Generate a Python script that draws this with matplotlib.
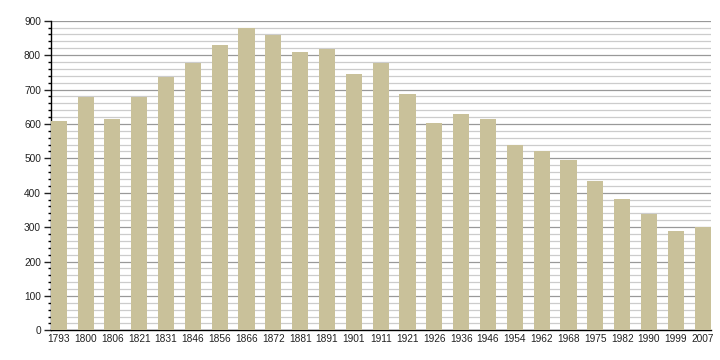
import numpy as np
import matplotlib
matplotlib.use('Agg')
import matplotlib.pyplot as plt
from matplotlib.ticker import MultipleLocator

years = ['1793', '1800', '1806', '1821', '1831', '1846', '1856', '1866', '1872',
         '1881', '1891', '1901', '1911', '1921', '1926', '1936', '1946', '1954',
         '1962', '1968', '1975', '1982', '1990', '1999', '2007']
population = [608, 678, 613, 678, 736, 777, 830, 879, 858,
              810, 818, 746, 777, 688, 604, 628, 613, 540,
              522, 494, 435, 383, 338, 290, 299]

plt.rcParams['font.family'] = ['Liberation Sans', 'DejaVu Sans']

fig = plt.figure(figsize=(7.2, 3.6), dpi=100)
ax = fig.add_axes([0.0704, 0.0825, 0.9166, 0.86])

w = 0.6
x = np.arange(len(years))
ax.bar(x, population, width=w, color='#C9C19A', zorder=3)

ax.set_xlim(-w / 2, len(years) - 1 + w / 2)
ax.set_ylim(0, 900)
ax.set_xticks(x)
ax.set_xticklabels(years)
ax.yaxis.set_major_locator(MultipleLocator(100))
ax.yaxis.set_minor_locator(MultipleLocator(20))

ax.grid(axis='y', which='major', color='#999999', linewidth=0.9, zorder=1)
ax.grid(axis='y', which='minor', color='#cccccc', linewidth=0.9, zorder=1)

for s in ['top', 'right']:
    ax.spines[s].set_visible(False)
ax.spines['left'].set_linewidth(1.0)
ax.spines['bottom'].set_linewidth(1.0)

ax.tick_params(axis='x', length=0, pad=3, labelsize=7.3, colors='#222222')
ax.tick_params(axis='y', which='major', length=5, width=1, pad=2, labelsize=7.3, colors='#222222')
ax.tick_params(axis='y', which='minor', length=2.5, width=1)

plt.savefig('out.png', dpi=100)
